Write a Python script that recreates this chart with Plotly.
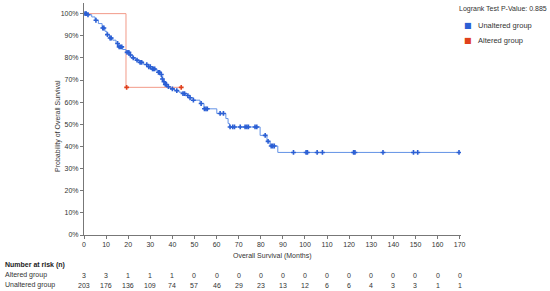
import plotly.graph_objects as go
import numpy as np

# Kaplan-Meier step points (months, survival %)
unalt_t = [0, 1.5, 3.5, 5.0, 6.5, 8.2, 9.5, 10.4, 11.5, 13, 14.5, 15.5, 17.5, 19, 20.5,
           22, 23.5, 25, 27, 29, 31, 32.5, 33.5, 34.5, 35.2, 36, 36.7, 38, 39, 41, 43,
           44.2, 46, 48, 49.5, 52.5, 54.3, 60.1, 64.2, 65.2, 65.8, 79.7, 82.8, 84.2, 87.7]
unalt_s = [100, 99.5, 98.5, 97, 95.5, 93.5, 92, 90.5, 89, 88, 86.5, 85, 83.8, 82.5, 81.3,
           80, 79, 78, 77, 76, 75, 74.5, 73.5, 72.5, 70.5, 69.2, 68, 67, 66, 65.2, 64.5,
           63.9, 63, 62, 60.9, 59.4, 57, 54.9, 52.6, 50.4, 48.8, 45, 42.3, 40.2, 37.3]
unalt_cens = [0.5, 1, 1.8, 5.4, 8.5, 9, 10.6, 11.8, 12.3, 15.2, 15.9, 16.5, 17.1, 19.5,
              20.3, 21, 22.3, 24, 25.4, 26.1, 28.4, 29.3, 30, 31, 31.4, 32, 33.7, 34.2,
              35, 35.5, 36.2, 36.8, 37.3, 38.2, 40, 42, 44.8, 45.5, 47, 48, 49.5, 53,
              54.5, 55.2, 55.8, 61.6, 63.1, 66.1, 67.3, 68.1, 70.7, 72.9, 73.7, 74.4,
              77.4, 78.2, 82, 83.3, 84.7, 85.4, 86.1, 94.8, 100.5, 101.1, 105.5, 107.9,
              122, 122.6, 135.3, 149.1, 151, 169.7]

alt_t = [0, 19]
alt_s = [100, 66.7]
alt_cens = [19.3, 44]

risk_times = list(range(0, 171, 10))
risk_alt = [3, 3, 1, 1, 1, 0, 0, 0, 0, 0, 0, 0, 0, 0, 0, 0, 0, 0]
risk_unalt = [203, 176, 136, 109, 74, 57, 46, 29, 23, 13, 12, 6, 6, 4, 3, 3, 1, 1]
y_ticks = list(range(0, 101, 10))

blue = '#2b5fd4'
blue_line = '#6392e6'
red = '#e0401c'
red_line = '#f29a88'
font = 'Liberation Sans, Arial, sans-serif'


def surv_at(ts, ss, times):
    idx = np.searchsorted(ts, times, side='right') - 1
    return [ss[i] for i in idx]


fig = go.Figure()
fig.add_trace(go.Scatter(
    x=alt_t + [max(alt_cens)], y=alt_s + [alt_s[-1]], mode='lines', name='Altered group',
    line=dict(color=red_line, width=1, shape='hv'), showlegend=False, hoverinfo='skip'))
fig.add_trace(go.Scatter(
    x=alt_cens, y=surv_at(alt_t, alt_s, alt_cens), mode='markers', name='Altered group',
    marker=dict(symbol='cross', size=4, color=red), showlegend=False))
fig.add_trace(go.Scatter(
    x=unalt_t + [max(unalt_cens)], y=unalt_s + [unalt_s[-1]], mode='lines', name='Unaltered group',
    line=dict(color=blue_line, width=1, shape='hv'), showlegend=False, hoverinfo='skip'))
fig.add_trace(go.Scatter(
    x=unalt_cens, y=surv_at(unalt_t, unalt_s, unalt_cens), mode='markers', name='Unaltered group',
    marker=dict(symbol='cross', size=4, color=blue), showlegend=False))

ann = []
ann.append(dict(text='Logrank Test P-Value: 0.885', xref='paper', yref='paper', x=1, y=1,
                xshift=87.5, yshift=-6, xanchor='right', yanchor='middle', showarrow=False,
                font=dict(size=7, color='#333')))
# legend
for label, col, shift in [('Unaltered group', blue, -22), ('Altered group', red, -37)]:
    ann.append(dict(text='■', xref='paper', yref='paper', x=1, y=1, xshift=6.5, yshift=shift,
                    xanchor='center', yanchor='middle', showarrow=False,
                    font=dict(size=8, color=col, family='DejaVu Sans')))
    ann.append(dict(text=label, xref='paper', yref='paper', x=1, y=1, xshift=15, yshift=shift,
                    xanchor='left', yanchor='middle', showarrow=False,
                    font=dict(size=7.5, color='#333')))
ann.append(dict(text='Overall Survival (Months)', xref='paper', yref='paper', x=0.5, y=0,
                yshift=-21, yanchor='middle', showarrow=False, font=dict(size=7, color='#333')))
ann.append(dict(text='Probability of Overall Survival', xref='paper', yref='paper', x=0, y=0.47,
                xshift=-26, textangle=-90, xanchor='center', showarrow=False,
                font=dict(size=7, color='#333')))
ann.append(dict(text='<b>Number at risk (n)</b>', xref='paper', yref='paper', x=0, y=0,
                xshift=-81, yshift=-30, xanchor='left', yanchor='middle', showarrow=False,
                font=dict(size=7, color='#222')))
for label, row, shift in [('Altered group', risk_alt, -40), ('Unaltered group', risk_unalt, -50)]:
    ann.append(dict(text=label, xref='paper', yref='paper', x=0, y=0, xshift=-81, yshift=shift,
                    xanchor='left', yanchor='middle', showarrow=False,
                    font=dict(size=7, color='#333')))
    for t, n in zip(risk_times, row):
        ann.append(dict(text=str(n), xref='x', yref='paper', x=t, y=0, yshift=shift,
                        yanchor='middle', showarrow=False, font=dict(size=7, color='#333')))

fig.update_layout(
    width=550, height=291, margin=dict(l=84, r=89, t=3, b=56, autoexpand=False),
    paper_bgcolor='white', plot_bgcolor='white',
    font=dict(family=font, size=7, color='#333'),
    annotations=ann, showlegend=False,
    xaxis=dict(range=[0, 170.6], tickvals=risk_times, showgrid=False, zeroline=False,
               showline=True, linecolor='#777', linewidth=1, ticks='outside', ticklen=3,
               tickcolor='#777', tickfont=dict(size=7)),
    yaxis=dict(range=[0, 104.8], tickvals=y_ticks, ticktext=[f'{v}%' for v in y_ticks],
               showgrid=False, zeroline=False, showline=True, linecolor='#777', linewidth=1,
               ticks='outside', ticklen=3, tickcolor='#777', tickfont=dict(size=7)),
)

fig.write_html('out.html', config={'displayModeBar': False},
               post_script="document.body.style.margin='0';")
